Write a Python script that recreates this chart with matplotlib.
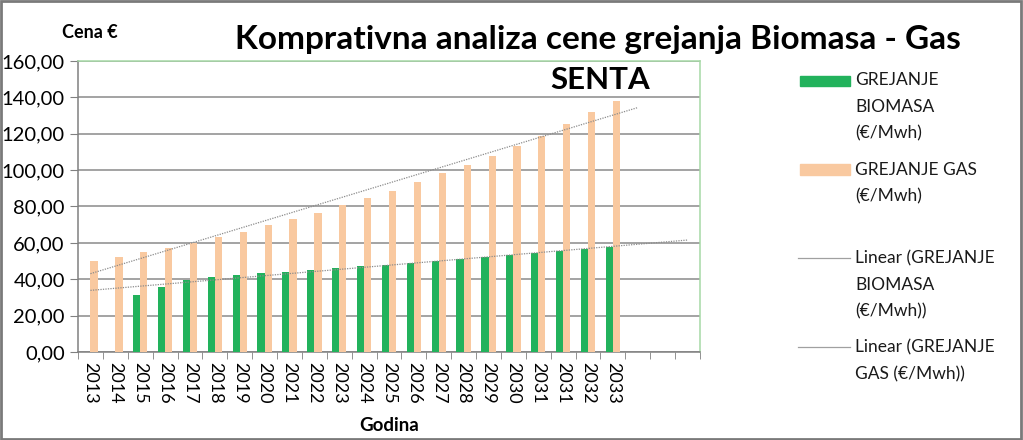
import matplotlib
matplotlib.use("Agg")
import matplotlib.pyplot as plt
import matplotlib.patches as patches
from matplotlib.lines import Line2D
import numpy as np

plt.rcParams['font.family'] = ['Lato', 'DejaVu Sans']

# Podaci
godine = ['2013', '2014', '2015', '2016', '2017', '2018', '2019', '2020', '2021',
          '2022', '2023', '2024', '2025', '2026', '2027', '2028', '2029', '2030',
          '2031', '2031', '2032', '2033', '', '', '']
biomasa = [None, None, 31.3, 35.5, 39.6, 41.4, 42.3, 43.6, 44.1, 45.0, 46.3,
           47.3, 47.8, 48.9, 50.0, 51.1, 52.2, 53.1, 54.2, 55.3, 56.4, 57.5]
gas = [50.0, 52.0, 55.0, 57.0, 60.0, 63.0, 66.0, 70.0, 73.0, 76.5, 80.8, 84.6,
       88.6, 93.3, 98.2, 102.7, 108.0, 113.2, 119.0, 125.5, 131.9, 138.1]

zelena = '#22b25c'
narandzasta = '#f9c9a0'

W, H = 1023, 440
fig = plt.figure(figsize=(W / 100, H / 100), dpi=100)
ax = fig.add_axes([78 / W, 1 - 352 / H, (700 - 78) / W, (352 - 61) / H])

x = np.arange(len(godine))
bw = 0.29
xb = np.array([i for i, v in enumerate(biomasa) if v is not None])
yb = np.array([v for v in biomasa if v is not None])
xg = np.arange(len(gas))
yg = np.array(gas)

ax.bar(xb - bw / 2, yb, width=bw, color=zelena, zorder=3)
ax.bar(xg + bw / 2, yg, width=bw, color=narandzasta, zorder=3)

# Linearni trend (Excel trendline)
kb = np.polyfit(xb, yb, 1)
tb = np.arange(0, len(godine))
ax.plot(tb, np.polyval(kb, tb), color='#8c8c8c', lw=0.9, ls=(0, (1, 1)), zorder=4)
kg = np.polyfit(xg, yg, 1)
tg = np.arange(0, len(gas) + 1)
ax.plot(tg, np.polyval(kg, tg), color='#8c8c8c', lw=0.9, ls=(0, (1, 1)), zorder=4)

ax.set_xlim(-0.5, len(godine) - 0.5)
ax.set_ylim(0, 160)
ax.set_yticks(np.arange(0, 161, 20))
ax.set_yticklabels([f'{v:.2f}'.replace('.', ',') for v in np.arange(0, 161, 20)],
                   fontsize=14.5)
ax.set_xticks(x)
ax.set_xticklabels(godine, rotation=-90, fontsize=13, va='top', ha='center')
ax.set_xticks(np.arange(-0.5, len(godine)), minor=True)
ax.tick_params(axis='x', which='major', length=0, pad=7)
ax.tick_params(axis='x', which='minor', length=5, color='#808080', direction='out')
ax.tick_params(axis='y', length=5.5, color='#808080', pad=4)

ax.grid(axis='y', color='#8a8a8a', lw=1.1, zorder=0)
for s in ['left', 'bottom']:
    ax.spines[s].set_color('#808080')
    ax.spines[s].set_linewidth(1.1)
for s in ['top', 'right']:
    ax.spines[s].set_color('#a6d8a6')
    ax.spines[s].set_linewidth(1.1)

# Naslovi
fig.text(598 / W, 1 - 40 / H, 'Komprativna analiza cene grejanja Biomasa - Gas',
         fontsize=24, fontweight='bold', ha='center', va='center')
fig.text(600 / W, 1 - 80 / H, 'SENTA', fontsize=22.5, fontweight='bold',
         ha='center', va='center')
fig.text(90 / W, 1 - 33 / H, 'Cena €', fontsize=13, fontweight='bold',
         ha='center', va='center')
fig.text(389 / W, 1 - 425 / H, 'Godina', fontsize=13.5, fontweight='bold',
         ha='center', va='center')

# Legenda
def px(xp, yp):
    return xp / W, 1 - yp / H

fig.patches.append(patches.Rectangle(px(800, 86), 50 / W, 10 / H,
                                     transform=fig.transFigure, color=zelena))
fig.patches.append(patches.Rectangle(px(800, 175), 50 / W, 11 / H,
                                     transform=fig.transFigure, color=narandzasta))
for yl in [258, 347]:
    fig.lines.append(Line2D([798 / W, 850 / W], [1 - yl / H] * 2,
                            transform=fig.transFigure, color='#a0a0a0', lw=0.9))

leg_tekst = [(80, 'GREJANJE\nBIOMASA\n(€/Mwh)'),
             (170, 'GREJANJE GAS\n(€/Mwh)'),
             (258, 'Linear (GREJANJE\nBIOMASA\n(€/Mwh))'),
             (347, 'Linear (GREJANJE\nGAS (€/Mwh))')]
for yl, t in leg_tekst:
    fig.text(855 / W, 1 - (yl - 8) / H, t, fontsize=12.5, ha='left', va='top',
             linespacing=1.82, color='#1a1a1a')

# Okvir
fig.patches.append(patches.Rectangle((0.001, 0.002), 0.997, 0.995,
                                     transform=fig.transFigure, fill=False,
                                     edgecolor='#7a7a7a', lw=2))

fig.savefig('out.png', dpi=100)
